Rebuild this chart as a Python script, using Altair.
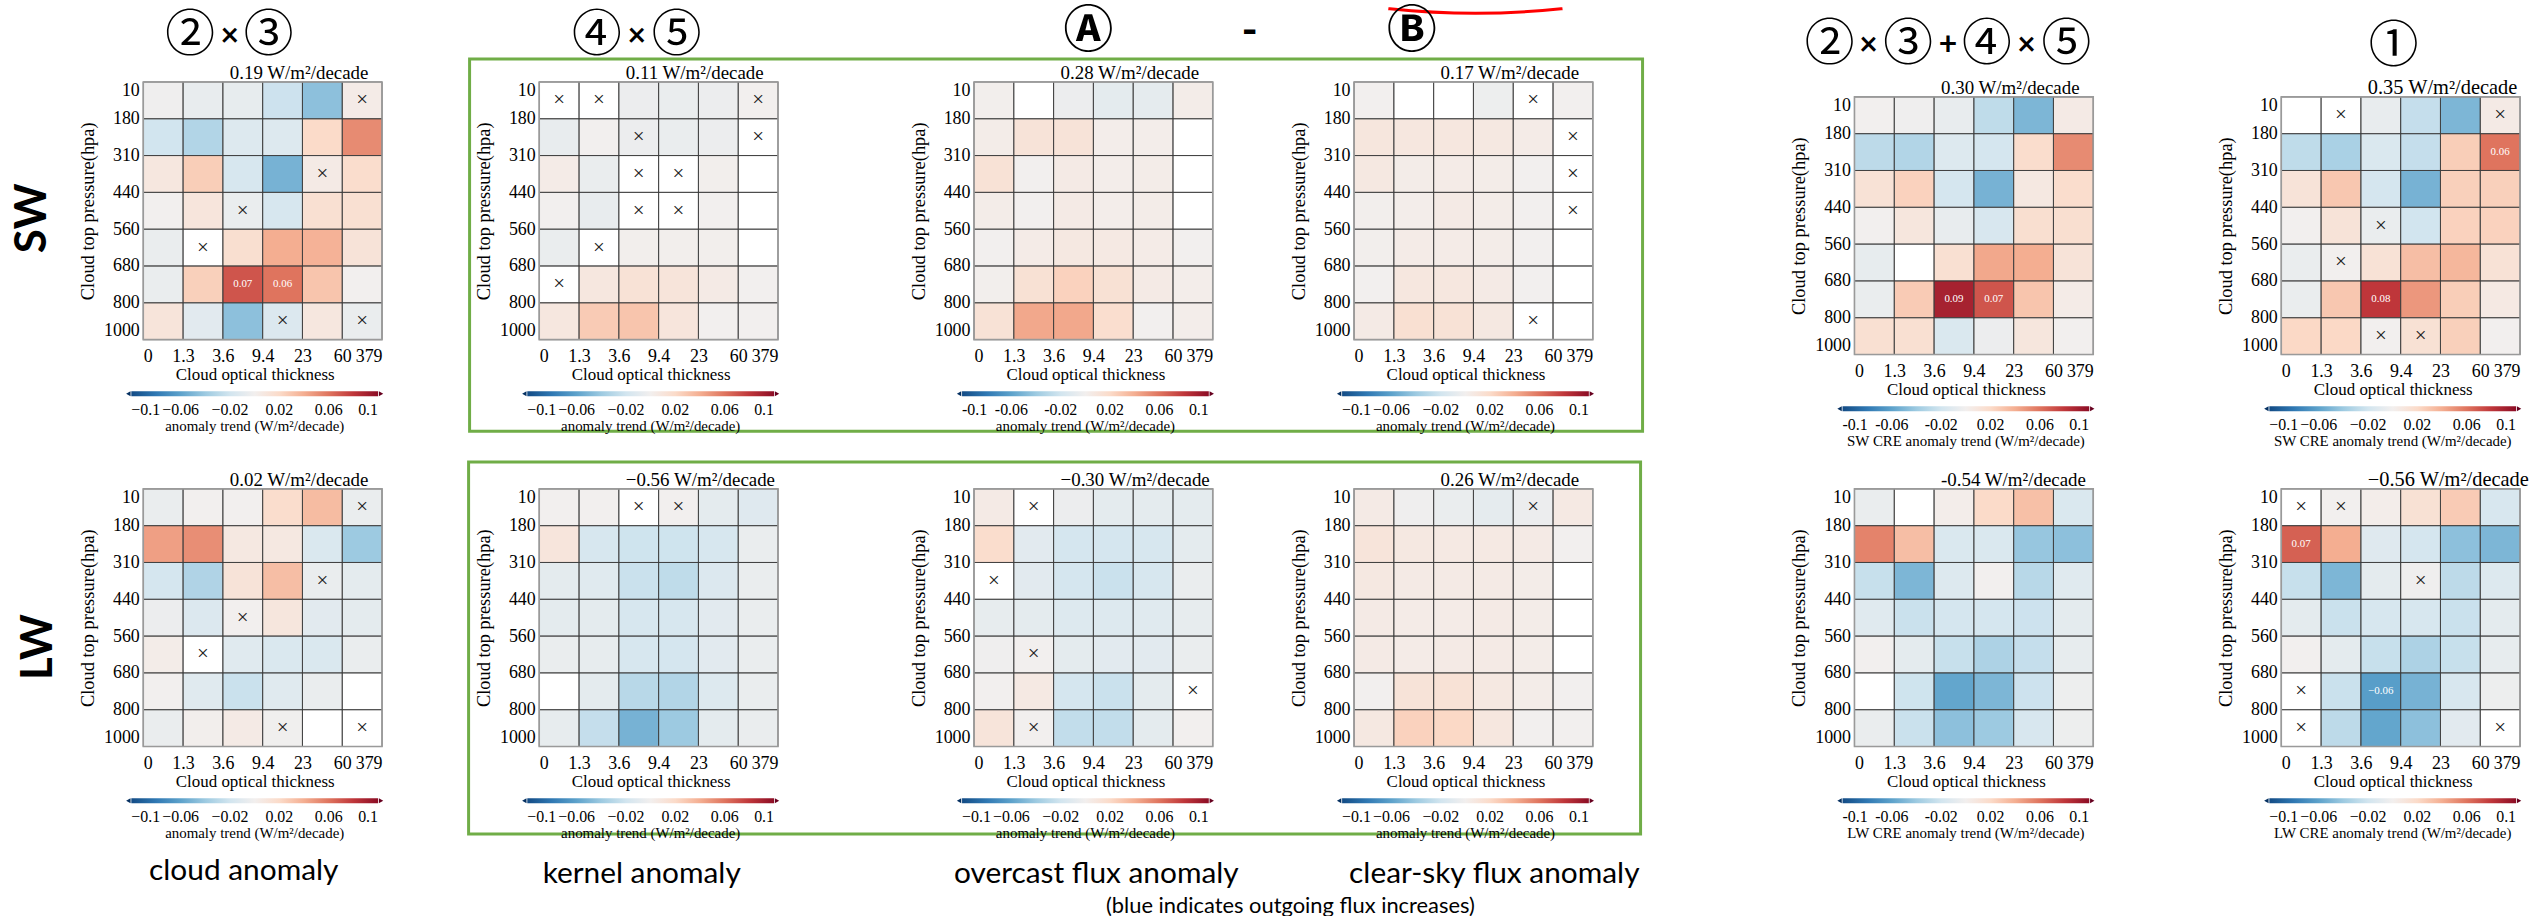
import json
import altair as alt
import pandas as pd

# ---------------- axis / colorbar labels ----------------
X_EDGES = ["0", "1.3", "3.6", "9.4", "23", "60", "379"]
Y_EDGES = ["10", "180", "310", "440", "560", "680", "800", "1000"]
CBAR_TICKS = [-0.1, -0.06, -0.02, 0.02, 0.06, 0.1]

# ---------------- data: rows = pressure bins (top 10-180 ... bottom 800-1000),
# cols = optical thickness bins (0-1.3 ... 60-379); None = blank (white) cell
SW_CLOUD = [
    [-0.002, -0.006, -0.007, -0.022, -0.045, 0.004],
    [-0.020, -0.032, -0.013, -0.013, 0.020, 0.052],
    [0.008, 0.026, -0.017, -0.052, 0.005, 0.018],
    [0.0, 0.010, -0.005, -0.017, 0.015, 0.015],
    [-0.005, None, 0.016, 0.040, 0.038, 0.012],
    [-0.005, 0.025, 0.07, 0.06, 0.030, 0.0],
    [0.011, -0.010, -0.045, -0.014, 0.008, -0.005],
]
SW_CLOUD_X = [(0, 5), (2, 4), (3, 2), (4, 1), (6, 3), (6, 5)]

SW_KERNEL = [
    [None, None, -0.004, -0.005, -0.004, 0.0],
    [-0.006, 0.0, -0.004, -0.005, -0.004, None],
    [0.004, -0.005, None, None, 0.001, None],
    [0.0, -0.006, None, None, 0.0, None],
    [-0.005, None, 0.001, 0.001, 0.001, None],
    [None, 0.008, 0.013, 0.011, 0.005, 0.0],
    [0.008, 0.027, 0.030, 0.010, 0.0, 0.0],
]
SW_KERNEL_X = [(0, 0), (0, 1), (0, 5), (1, 2), (1, 5), (2, 2), (2, 3), (3, 2), (3, 3), (4, 1), (5, 0)]

SW_OVERCAST = [
    [0.001, None, -0.004, -0.009, -0.008, 0.003],
    [0.003, 0.012, 0.012, 0.002, 0.002, None],
    [0.013, 0.0, 0.005, 0.002, 0.003, None],
    [0.003, 0.0, 0.005, 0.002, 0.003, None],
    [0.0, 0.004, 0.007, 0.006, 0.004, 0.0],
    [0.001, 0.014, 0.024, 0.014, 0.005, 0.002],
    [0.013, 0.042, 0.042, 0.017, 0.0, 0.002],
]
SW_OVERCAST_X = []

SW_CLEAR = [
    [0.0, None, None, -0.003, None, 0.0],
    [0.009, 0.008, 0.008, 0.007, 0.004, None],
    [0.007, 0.003, 0.004, 0.003, 0.0, None],
    [0.001, 0.002, 0.005, 0.003, 0.0, None],
    [0.001, 0.004, 0.004, 0.003, 0.0, None],
    [0.0, 0.008, 0.008, 0.005, 0.0, None],
    [0.005, 0.015, 0.013, 0.007, None, None],
]
SW_CLEAR_X = [(0, 4), (1, 5), (2, 5), (3, 5), (6, 4)]

SW_SUM = [
    [0.0, -0.002, -0.006, -0.027, -0.050, 0.005],
    [-0.028, -0.032, -0.013, -0.018, 0.018, 0.052],
    [0.013, 0.024, -0.018, -0.052, 0.007, 0.018],
    [0.0, 0.009, -0.006, -0.016, 0.016, 0.016],
    [-0.007, None, 0.015, 0.042, 0.040, 0.012],
    [-0.005, 0.027, 0.09, 0.07, 0.030, 0.004],
    [0.015, 0.015, -0.015, -0.004, 0.009, 0.0],
]
SW_SUM_X = []

SW_TOTAL = [
    [None, None, -0.006, -0.025, -0.050, 0.005],
    [-0.027, -0.035, -0.015, -0.025, 0.026, 0.06],
    [0.012, 0.029, -0.018, -0.052, 0.025, 0.025],
    [0.0, 0.012, -0.005, -0.020, 0.024, 0.024],
    [-0.005, 0.0, 0.013, 0.033, 0.036, 0.013],
    [-0.005, 0.029, 0.08, 0.048, 0.026, 0.006],
    [0.021, 0.021, 0.0, 0.014, 0.025, 0.0],
]
SW_TOTAL_X = [(0, 1), (0, 5), (3, 2), (4, 1), (6, 2), (6, 3)]

LW_CLOUD = [
    [-0.005, 0.0, 0.0, 0.018, 0.034, -0.005],
    [0.045, 0.051, 0.007, 0.007, -0.015, -0.040],
    [-0.018, -0.033, 0.012, 0.033, -0.005, -0.009],
    [-0.004, -0.014, 0.0, 0.009, -0.010, -0.009],
    [0.003, None, -0.011, -0.015, -0.015, -0.005],
    [0.0, -0.011, -0.023, -0.011, -0.005, None],
    [-0.005, 0.001, 0.005, -0.001, None, None],
]
LW_CLOUD_X = [(0, 5), (2, 4), (3, 2), (4, 1), (6, 3), (6, 5)]

LW_KERNEL = [
    [0.0, 0.0, None, 0.0, -0.009, -0.012],
    [0.010, -0.017, -0.021, -0.021, -0.017, -0.005],
    [-0.009, -0.011, -0.023, -0.027, -0.014, -0.005],
    [-0.009, -0.009, -0.017, -0.017, -0.010, -0.005],
    [-0.005, -0.007, -0.017, -0.018, -0.010, -0.005],
    [None, -0.009, -0.030, -0.032, -0.013, -0.005],
    [-0.007, -0.025, -0.052, -0.040, -0.009, -0.005],
]
LW_KERNEL_X = [(0, 2), (0, 3)]

LW_OVERCAST = [
    [0.005, None, -0.004, -0.009, -0.009, -0.009],
    [0.018, -0.010, -0.018, -0.018, -0.017, -0.009],
    [None, -0.010, -0.018, -0.023, -0.017, -0.005],
    [-0.007, -0.009, -0.013, -0.013, -0.011, -0.007],
    [-0.002, 0.0, -0.009, -0.010, -0.010, -0.005],
    [0.0, 0.006, -0.018, -0.023, -0.009, None],
    [0.011, 0.0, -0.026, -0.026, -0.009, 0.0],
]
LW_OVERCAST_X = [(0, 1), (2, 0), (4, 1), (5, 5), (6, 1)]

LW_CLEAR = [
    [0.005, -0.002, -0.005, -0.008, -0.004, 0.006],
    [0.011, 0.007, 0.006, 0.006, 0.005, 0.0],
    [0.007, 0.005, 0.005, 0.005, 0.003, None],
    [0.005, 0.004, 0.004, 0.005, 0.003, None],
    [0.005, 0.004, 0.005, 0.005, 0.003, None],
    [0.0, 0.012, 0.013, 0.007, 0.003, 0.0],
    [0.007, 0.024, 0.021, 0.008, 0.0, 0.0],
]
LW_CLEAR_X = [(0, 4)]

LW_SUM = [
    [-0.005, None, 0.002, 0.020, 0.032, -0.015],
    [0.055, 0.033, -0.015, -0.015, -0.042, -0.045],
    [-0.024, -0.050, -0.013, 0.0, -0.030, -0.011],
    [-0.011, -0.023, -0.018, -0.018, -0.022, -0.009],
    [0.0, -0.009, -0.024, -0.034, -0.025, -0.007],
    [None, -0.021, -0.058, -0.050, -0.022, -0.003],
    [-0.005, -0.023, -0.045, -0.040, -0.016, -0.003],
]
LW_SUM_X = []

LW_TOTAL = [
    [None, 0.0, 0.002, 0.014, 0.027, -0.016],
    [0.066, 0.040, -0.012, -0.018, -0.045, -0.050],
    [-0.024, -0.050, -0.009, -0.002, -0.028, -0.013],
    [-0.009, -0.023, -0.017, -0.017, -0.023, -0.009],
    [0.0, -0.009, -0.024, -0.034, -0.024, -0.007],
    [None, -0.023, -0.062, -0.052, -0.016, -0.003],
    [None, -0.028, -0.058, -0.045, -0.010, None],
]
LW_TOTAL_X = [(0, 0), (0, 1), (2, 3), (5, 0), (6, 0), (6, 5)]

TOTALS_TOP = ["0.19 W/m²/decade", "0.11 W/m²/decade", "0.28 W/m²/decade",
              "0.17 W/m²/decade", "0.30 W/m²/decade", "0.35 W/m²/decade"]
TOTALS_BOT = ["0.02 W/m²/decade", "\u22120.56 W/m²/decade", "\u22120.30 W/m²/decade",
              "0.26 W/m²/decade", "-0.54 W/m²/decade", "\u22120.56 W/m²/decade"]
CBAR_TITLE = "anomaly trend (W/m²/decade)"
CBAR_SW = "SW CRE anomaly trend (W/m²/decade)"
CBAR_LW = "LW CRE anomaly trend (W/m²/decade)"

# ---------------- style ----------------
SERIF = "Liberation Serif"
SANS = "Lato"
CJK = "Noto Sans CJK JP"
GREEN = "#70ad47"
W, PH = 240, 259          # plot area of each heat map
LY = 311                  # colorbar top, below plot top


def one():
    return pd.DataFrame({"a": [0]})


def txt(s, px, py, origin, size, font, weight="normal", angle=0, align="center",
        baseline="middle"):
    ox, oy = origin
    return alt.Chart(one()).mark_text(
        text=s, fontSize=size, font=font, fontWeight=weight, angle=angle, color="black",
        align=align, baseline=baseline
    ).encode(x=alt.value(px - ox), y=alt.value(py - oy))


def glyphs(items, py, origin):
    """items: list of (text, centre_x, size, font, weight)"""
    return [txt(s, px, py, origin, size, font, weight) for s, px, size, font, weight in items]


def box(x0, y0, x1, y1, origin):
    ox, oy = origin
    return alt.Chart(one()).mark_rect(
        fill="white", fillOpacity=0, stroke=GREEN, strokeWidth=3
    ).encode(x=alt.value(x0 - ox), x2=alt.value(x1 - ox), y=alt.value(y0 - oy),
             y2=alt.value(y1 - oy))


def panel(values, crosses, total, cbar_title, origin, plot_top, view_h, title_size=19,
          hyphen=False, decos=()):
    recs = []
    for r, row in enumerate(values):
        for c, v in enumerate(row):
            recs.append({"c": c, "c2": c + 1, "r": r, "r2": r + 1, "v": v,
                         "cross": (r, c) in crosses})
    df = pd.DataFrame(recs)
    base = alt.Chart(df)

    xscale = alt.Scale(domain=[0, 6], nice=False, zero=False)
    yscale = alt.Scale(domain=[0, 7], nice=False, zero=False, range=[plot_top, plot_top + PH])
    xaxis = alt.Axis(values=list(range(7)), labelExpr=f"{json.dumps(X_EDGES)}[datum.value]",
                     title="Cloud optical thickness", titleX=112, labelPadding=8,
                     titlePadding=1, titleFontSize=17, offset=-(view_h - plot_top - PH))
    yaxis = alt.Axis(values=list(range(8)), labelExpr=f"{json.dumps(Y_EDGES)}[datum.value]",
                     title="Cloud top pressure(hpa)", labelFlush=True, labelPadding=4,
                     titlePadding=6, titleFontSize=18.5)

    def X(f):
        return alt.X(f, scale=xscale, axis=xaxis)

    def Y(f):
        return alt.Y(f, scale=yscale, axis=yaxis)

    ly = plot_top + LY
    leg = dict(orient="none", legendX=-12, legendY=ly, direction="horizontal",
               gradientLength=248, gradientThickness=5, values=CBAR_TICKS, format=".2~f",
               title=cbar_title, titleOrient="bottom", titleAnchor="middle", titlePadding=1,
               titleLimit=500, labelOffset=6, labelAlign="center", labelFont=SERIF,
               labelFontSize=16, labelColor="black", titleFont=SERIF, titleFontSize=15,
               titleFontWeight="normal", titleColor="black", gradientStrokeWidth=0)
    if hyphen:
        leg["labelExpr"] = "replace(datum.label, '\u2212', '-')"

    white = base.mark_rect(fill="white").encode(x=X("c:Q"), x2="c2:Q", y=Y("r:Q"), y2="r2:Q")
    colored = base.mark_rect().encode(
        x=X("c:Q"), x2="c2:Q", y=Y("r:Q"), y2="r2:Q",
        color=alt.Color("v:Q", scale=alt.Scale(scheme="redblue", reverse=True,
                                                domain=[-0.1, 0.1]),
                        legend=alt.Legend(**leg)),
    ).transform_filter("isValid(datum.v)")
    grid = base.mark_rect(fill="white", fillOpacity=0, stroke="#3a3a3a",
                          strokeWidth=0.8).encode(x=X("c:Q"), x2="c2:Q", y=Y("r:Q"), y2="r2:Q")
    frame = alt.Chart(pd.DataFrame([{"c": 0, "c2": 6, "r": 0, "r2": 7}])).mark_rect(
        fill="white", fillOpacity=0, stroke="#9a9a9a", strokeWidth=1.6
    ).encode(x=X("c:Q"), x2="c2:Q", y=Y("r:Q"), y2="r2:Q")
    xs = base.transform_filter("datum.cross").transform_calculate(
        cm="datum.c + 0.5", rm="datum.r + 0.5"
    ).mark_text(text="×", font=SERIF, fontSize=21, color="#222222",
                baseline="middle").encode(x=X("cm:Q"), y=Y("rm:Q"))
    labels = base.transform_filter(
        "isValid(datum.v) && abs(datum.v) >= 0.0595"
    ).transform_calculate(cm="datum.c + 0.5", rm="datum.r + 0.5").mark_text(
        font=SERIF, fontSize=11, color="white", baseline="middle"
    ).encode(x=X("cm:Q"), y=Y("rm:Q"), text=alt.Text("v:Q", format=".2f"))
    tl = alt.Chart(one()).mark_point(shape="triangle-left", filled=True, size=26,
                                     color="#053061", opacity=1).encode(
        x=alt.value(-15), y=alt.value(ly + 2.5))
    tr = alt.Chart(one()).mark_point(shape="triangle-right", filled=True, size=26,
                                     color="#67001f", opacity=1).encode(
        x=alt.value(239), y=alt.value(ly + 2.5))
    title = alt.Chart(one()).mark_text(
        text=total, font=SERIF, fontSize=title_size, color="black", align="left",
        baseline="alphabetic"
    ).encode(x=alt.value(87), y=alt.value(plot_top - 3))

    return alt.layer(white, colored, grid, frame, xs, labels, tl, tr, title, *decos).properties(
        width=W, height=view_h)


def spacer(w, h):
    return alt.Chart(one()).mark_point(opacity=0).encode(
        x=alt.value(0), y=alt.value(0)).properties(width=w, height=h)


# ---------------- view origins (page px) ----------------
TOP_Y, TOP_H = 75, 274
BOT_Y, BOT_H = 484, 259
T = [(144, TOP_Y), (542, TOP_Y), (960, TOP_Y), (1342, TOP_Y), (1845, TOP_Y), (2274, TOP_Y)]
B = [(144, BOT_Y), (542, BOT_Y), (979, BOT_Y), (1342, BOT_Y), (1845, BOT_Y), (2274, BOT_Y)]

anchor = alt.Chart(one()).mark_rect(fill="white").encode(
    x=alt.value(-144), x2=alt.value(-143), y=alt.value(-75), y2=alt.value(-74))

# thin red arc at the top edge (partly outside the slide in the reference)
ARC_R = 824
arc = alt.Chart(one()).mark_arc(filled=False, stroke="#ff0000", strokeWidth=3).encode(
    x=alt.value(1464 - T[3][0]), y=alt.value(6 - ARC_R - T[3][1]),
    theta=alt.value(3.0370), theta2=alt.value(3.2462),
    radius=alt.value(ARC_R), radius2=alt.value(ARC_R - 0.01))

C, CS, XS = 50, 32, "bold"
t1 = panel(SW_CLOUD, SW_CLOUD_X, TOTALS_TOP[0], CBAR_TITLE, T[0], 0, TOP_H, decos=[
    anchor,
    *glyphs([("②", 191, C, CJK, "normal"), ("×", 231, CS, SANS, XS),
             ("③", 270, C, CJK, "normal")], 29, T[0]),
    txt("SW", 33, 212, T[0], 44, SANS, "bold", 270),
])
t2 = panel(SW_KERNEL, SW_KERNEL_X, TOTALS_TOP[1], CBAR_TITLE, T[1], 0, TOP_H, decos=[
    box(472, 52, 1651, 426, T[1]),
    *glyphs([("④", 600, C, CJK, "normal"), ("×", 640, CS, SANS, XS),
             ("⑤", 680, C, CJK, "normal")], 29, T[1]),
])
t3 = panel(SW_OVERCAST, SW_OVERCAST_X, TOTALS_TOP[2], CBAR_TITLE, T[2], 0, TOP_H, hyphen=True,
           decos=[txt("Ⓐ", 1075, 25, T[2], 50, CJK, "bold")])
t4 = panel(SW_CLEAR, SW_CLEAR_X, TOTALS_TOP[3], CBAR_TITLE, T[3], 0, TOP_H, decos=[
    arc,
    txt("-", 1237, 25, T[3], 44, SANS, "bold"),
    txt("Ⓑ", 1400, 25, T[3], 50, CJK, "bold"),
])
t5 = panel(SW_SUM, SW_SUM_X, TOTALS_TOP[4], CBAR_SW, T[4], 15, TOP_H, hyphen=True, decos=[
    *glyphs([("②", 1820, C, CJK, "normal"), ("×", 1859, CS, SANS, XS),
             ("③", 1899, C, CJK, "normal"), ("+", 1939, CS, SANS, XS),
             ("④", 1978, C, CJK, "normal"), ("×", 2018, CS, SANS, XS),
             ("⑤", 2058, C, CJK, "normal")], 38, T[4]),
])
t6 = panel(SW_TOTAL, SW_TOTAL_X, TOTALS_TOP[5], CBAR_SW, T[5], 15, TOP_H, title_size=20.5,
           decos=[txt("①", 2387, 40, T[5], C, CJK)])

b1 = panel(LW_CLOUD, LW_CLOUD_X, TOTALS_BOT[0], CBAR_TITLE, B[0], 0, BOT_H, decos=[
    txt("LW", 39, 643, B[0], 44, SANS, "bold", 270),
    txt("cloud anomaly", 245, 868, B[0], 30, SANS),
])
b2 = panel(LW_KERNEL, LW_KERNEL_X, TOTALS_BOT[1], CBAR_TITLE, B[1], 0, BOT_H, decos=[
    box(471, 457, 1649, 831, B[1]),
    txt("kernel anomaly", 645, 871, B[1], 30, SANS),
])
b3 = panel(LW_OVERCAST, LW_OVERCAST_X, TOTALS_BOT[2], CBAR_TITLE, B[2], 0, BOT_H, decos=[
    txt("overcast flux anomaly", 1102, 871, B[2], 30, SANS),
    txt("(blue indicates outgoing flux increases)", 1297, 903, B[2], 22, SANS),
])
b4 = panel(LW_CLEAR, LW_CLEAR_X, TOTALS_BOT[3], CBAR_TITLE, B[3], 0, BOT_H, decos=[
    txt("clear-sky flux anomaly", 1483, 871, B[3], 30, SANS),
])
b5 = panel(LW_SUM, LW_SUM_X, TOTALS_BOT[4], CBAR_LW, B[4], 0, BOT_H, hyphen=True)
b6 = panel(LW_TOTAL, LW_TOTAL_X, TOTALS_BOT[5], CBAR_LW, B[5], 0, BOT_H, title_size=20.5)

items = [t1, spacer(158, TOP_H), t2, spacer(178, TOP_H), t3, spacer(142, TOP_H), t4,
         spacer(263, TOP_H), t5, spacer(189, TOP_H), t6,
         b1, spacer(158, BOT_H), b2, spacer(197, BOT_H), b3, spacer(123, BOT_H), b4,
         spacer(263, BOT_H), b5, spacer(189, BOT_H), b6]

chart = alt.concat(
    *items, columns=11, spacing={"row": BOT_Y - TOP_Y - TOP_H, "column": 0},
    bounds="flush", align="none"
).resolve_scale(color="independent").properties(padding=0).configure_view(
    stroke=None
).configure_axis(
    labelFont=SERIF, titleFont=SERIF, labelFontSize=18,
    titleFontWeight="normal", labelColor="black", titleColor="black",
    ticks=False, domain=False, grid=False
)

chart.save("out.html", embed_options={"renderer": "svg", "actions": False})
